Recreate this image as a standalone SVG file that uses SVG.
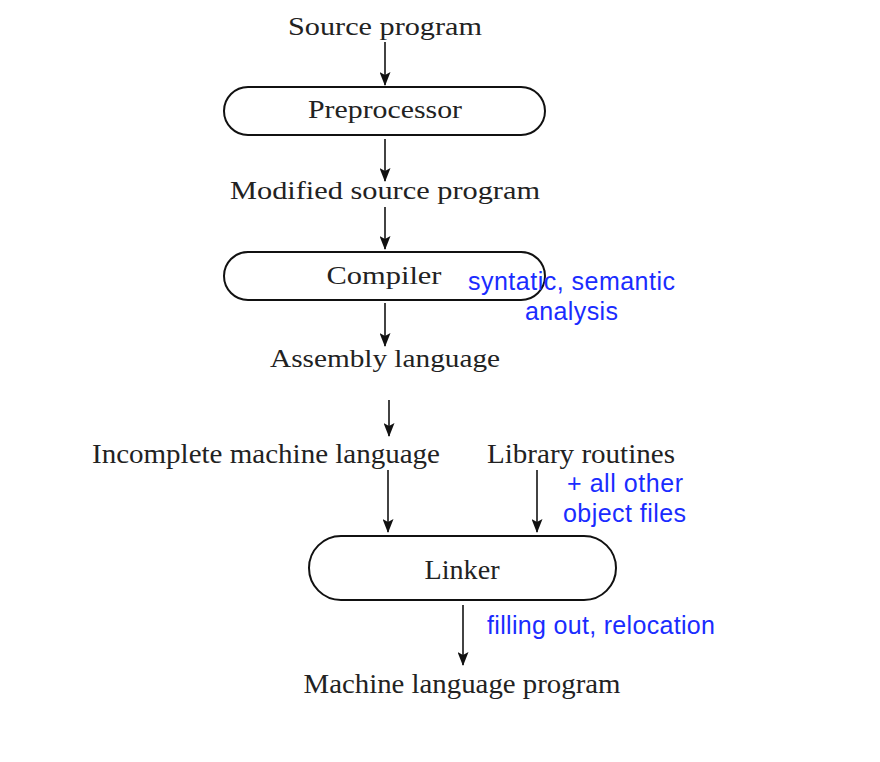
<svg xmlns="http://www.w3.org/2000/svg" width="880" height="762" viewBox="0 0 880 762">
<style>
.s{font-family:"Liberation Serif","Times New Roman",serif;fill:#222;}
.b{font-family:"Liberation Sans",Arial,sans-serif;fill:#1a2cff;font-size:25px;}
.pill{fill:#fff;stroke:#111;stroke-width:2;}
.c{stroke:#222;stroke-width:1.7;fill:none;marker-end:url(#ah);}
</style>
<defs>
<marker id="ah" viewBox="0 0 14 11" refX="13" refY="5.5" markerWidth="14" markerHeight="11" markerUnits="userSpaceOnUse" orient="auto">
<path d="M0,0 L14,5.5 L0,11 L3,5.5 Z" fill="#111"/>
</marker>
</defs>
<rect width="880" height="762" fill="#fff"/>
<g id="connectors">
<line class="c" x1="385" y1="42" x2="385" y2="85"/>
<line class="c" x1="385" y1="139" x2="385" y2="181"/>
<line class="c" x1="385" y1="207" x2="385" y2="249"/>
<line class="c" x1="385" y1="303" x2="385" y2="346"/>
<line class="c" x1="389" y1="400" x2="389" y2="436"/>
<line class="c" x1="388" y1="470" x2="388" y2="532"/>
<line class="c" x1="537" y1="470" x2="537" y2="532"/>
<line class="c" x1="463" y1="605" x2="463" y2="665"/>
</g>
<g id="source"><text class="s" x="385" y="35" font-size="26" text-anchor="middle" textLength="194" lengthAdjust="spacingAndGlyphs">Source program</text></g>
<g id="preprocessor">
<rect class="pill" x="224" y="87" width="321" height="48" rx="24"/>
<text class="s" x="385" y="118" font-size="25" text-anchor="middle" textLength="154" lengthAdjust="spacingAndGlyphs">Preprocessor</text>
</g>
<g id="modified"><text class="s" x="385" y="199" font-size="26" text-anchor="middle" textLength="310" lengthAdjust="spacingAndGlyphs">Modified source program</text></g>
<g id="compiler">
<rect class="pill" x="224" y="252" width="321" height="48" rx="24"/>
<text class="s" x="384" y="284" font-size="25" text-anchor="middle" textLength="115" lengthAdjust="spacingAndGlyphs">Compiler</text>
</g>
<g id="note-compiler">
<text class="b" x="468" y="290" textLength="207">syntatic, semantic</text>
<text class="b" x="525" y="320" textLength="93">analysis</text>
</g>
<g id="assembly"><text class="s" x="385" y="367" font-size="26" text-anchor="middle" textLength="230" lengthAdjust="spacingAndGlyphs">Assembly language</text></g>
<g id="incomplete"><text class="s" x="92" y="463" font-size="28" textLength="348" lengthAdjust="spacingAndGlyphs">Incomplete machine language</text></g>
<g id="library"><text class="s" x="487" y="463" font-size="28" textLength="188" lengthAdjust="spacingAndGlyphs">Library routines</text></g>
<g id="note-library">
<text class="b" x="567" y="492" textLength="116">+ all other</text>
<text class="b" x="563" y="522" textLength="123">object files</text>
</g>
<g id="linker">
<rect class="pill" x="309" y="536" width="307" height="64" rx="32"/>
<text class="s" x="462" y="579" font-size="28" text-anchor="middle" textLength="75" lengthAdjust="spacingAndGlyphs">Linker</text>
</g>
<g id="note-linker"><text class="b" x="487" y="634" textLength="228">filling out, relocation</text></g>
<g id="machine"><text class="s" x="462" y="693" font-size="28" text-anchor="middle" textLength="317" lengthAdjust="spacingAndGlyphs">Machine language program</text></g>
</svg>
